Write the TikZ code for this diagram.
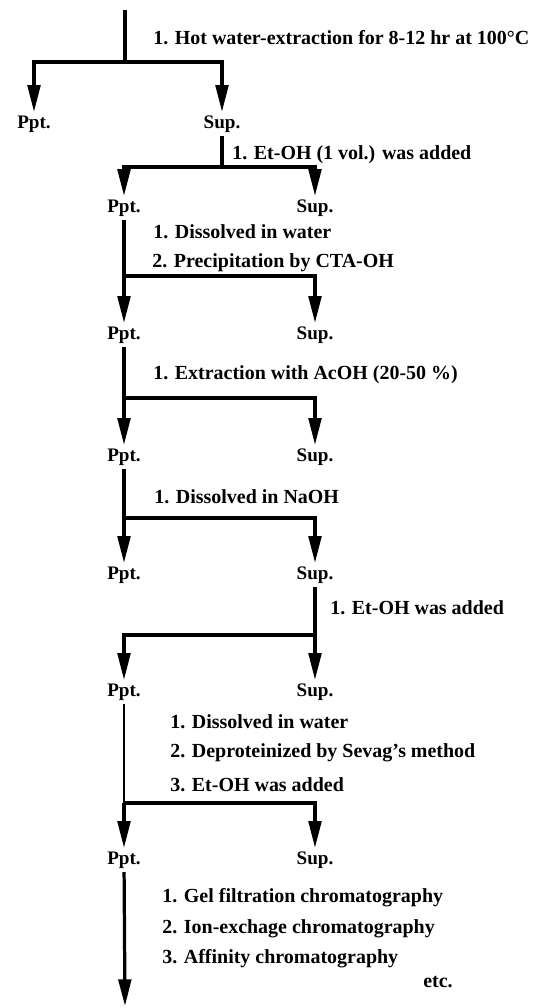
\documentclass[tikz,border=0pt]{standalone}
\usepackage{fontspec}
\setmainfont{Liberation Serif}
\usetikzlibrary{arrows.meta}

\tikzset{
  lbl/.style={font=\fontsize{13.6}{15}\selectfont\bfseries, inner sep=2.5pt},
  note/.style={lbl, anchor=west, inner sep=0pt, font=\fontsize{14.2}{16}\selectfont\bfseries},
  stem/.style={line width=2.3pt},
  thinstem/.style={line width=1.5pt},
  arr/.style={stem, -{Triangle[length=19pt,width=9pt]}}
}

\begin{document}
\begin{tikzpicture}[x=0.025cm, y=-0.025cm]

		\useasboundingbox (0,0) rectangle (558,1008);

		% --- hot water extraction ---
		\coordinate (top) at (125,10);
		\coordinate (b0) at (0,62);
		\node[lbl] (ppt1) at (34,124) {Ppt.};
		\node[lbl] (sup1) at (222,124) {Sup.};
		\node[note] (n0) at (153,38) {1. Hot water-extraction for 8-12 hr at 100\textdegree C};
		\draw[stem] (top) -- (top |- b0);
		\draw[arr] (top |- b0) -| (ppt1);
		\draw[arr] (top |- b0) -| (sup1);

		% --- Et-OH (1 vol.) ---
		\coordinate (b1) at (0,167);
		\node[lbl] (ppt2) at (124,208) {Ppt.};
		\node[lbl] (sup2) at (315,208) {Sup.};
		\node[note] (n1) at (232,155) {1. Et-OH (1 vol.) was added};
		\draw[stem] (sup1) -- (sup1 |- b1);
		\draw[arr] (sup1 |- b1) -| (ppt2);
		\draw[arr] (sup1 |- b1) -| (sup2);

		% --- CTA-OH precipitation ---
		\coordinate (b2) at (0,276);
		\node[lbl] (ppt3) at (124,335) {Ppt.};
		\node[lbl] (sup3) at (315,335) {Sup.};
		\node[note] (n2a) at (153,232) {1. Dissolved in water};
		\node[note] (n2b) at (152,263) {2. Precipitation by CTA-OH};
		\draw[arr] (ppt2) -- (ppt2 |- b2) -| (sup3);
		\draw[arr] (ppt2 |- b2) -- (ppt3);

		% --- AcOH extraction ---
		\coordinate (b3) at (0,398);
		\node[lbl] (ppt4) at (124,457) {Ppt.};
		\node[lbl] (sup4) at (315,457) {Sup.};
		\node[note] (n3) at (153,375) {1. Extraction with AcOH (20-50 \%)};
		\draw[arr] (ppt3) -- (ppt3 |- b3) -| (sup4);
		\draw[arr] (ppt3 |- b3) -- (ppt4);

		% --- NaOH ---
		\coordinate (b4) at (0,518);
		\node[lbl] (ppt5) at (124,575) {Ppt.};
		\node[lbl] (sup5) at (315,575) {Sup.};
		\node[note] (n4) at (154,497) {1. Dissolved in NaOH};
		\draw[arr] (ppt4) -- (ppt4 |- b4) -| (sup5);
		\draw[arr] (ppt4 |- b4) -- (ppt5);

		% --- Et-OH ---
		\coordinate (b5) at (0,635);
		\node[lbl] (ppt6) at (124,692) {Ppt.};
		\node[lbl] (sup6) at (315,692) {Sup.};
		\node[note] (n5) at (330,608) {1. Et-OH was added};
		\draw[arr] (sup5) -- (sup5 |- b5) -| (ppt6);
		\draw[arr] (sup5 |- b5) -- (sup6);

		% --- Sevag deproteinization ---
		\coordinate (b6) at (0,803);
		\node[lbl] (ppt7) at (124,860) {Ppt.};
		\node[lbl] (sup7) at (315,860) {Sup.};
		\node[note] (n6a) at (170,722) {1. Dissolved in water};
		\node[note] (n6b) at (170,753) {2. Deproteinized by Sevag's method};
		\node[note] (n6c) at (170,785) {3. Et-OH was added};
		\draw[thinstem] (ppt6) -- (ppt6 |- b6);
		\draw[arr] (ppt6 |- b6) -| (sup7);
		\draw[arr] (ppt6 |- b6) -- (ppt7);

		% --- chromatography ---
		\coordinate (end) at (125,1006);
		\node[note] (n7a) at (162,898) {1. Gel filtration chromatography};
		\node[note] (n7b) at (162,929) {2. Ion-exchage chromatography};
		\node[note] (n7c) at (162,959) {3. Affinity chromatography};
		\node[note] (etc) at (423,982) {etc.};
		\draw[arr] (ppt7) -- (end);

	\end{tikzpicture}
\end{document}
